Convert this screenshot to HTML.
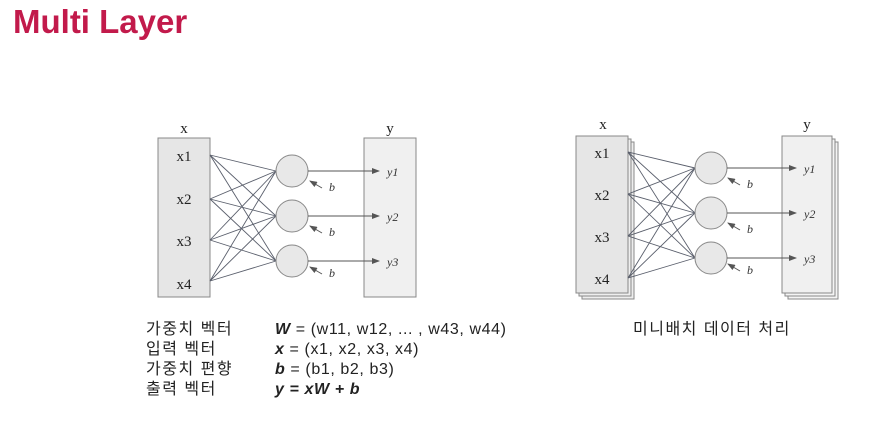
<!DOCTYPE html>
<html><head><meta charset="utf-8"><style>
body{margin:0;width:889px;height:443px;background:#fff;overflow:hidden;position:relative;font-family:"Liberation Sans","Noto Sans CJK KR",sans-serif}
.t{position:absolute;left:13px;top:3px;font-size:33px;font-weight:bold;color:#c21a4b}
.k{position:absolute;font-size:16px;color:#222;line-height:20px;letter-spacing:0.6px}
</style></head><body>
<div class="t">Multi Layer</div>
<svg width="889" height="443" style="position:absolute;left:0;top:0" font-family="Liberation Serif, serif">
<defs><marker id="a" markerWidth="8" markerHeight="6" refX="7" refY="3" orient="auto" markerUnits="userSpaceOnUse"><path d="M0,0L8,3L0,6z" fill="#555"/></marker></defs>
<rect x="158" y="138" width="52" height="159" fill="#e6e6e6" stroke="#888"/>
<rect x="364" y="138" width="52" height="159" fill="#f0f0f0" stroke="#888"/>
<g stroke="#5a5f6c" stroke-width="0.9">
<line x1="210" y1="155" x2="276" y2="171"/><line x1="210" y1="155" x2="276" y2="216"/><line x1="210" y1="155" x2="276" y2="261"/>
<line x1="210" y1="199" x2="276" y2="171"/><line x1="210" y1="199" x2="276" y2="216"/><line x1="210" y1="199" x2="276" y2="261"/>
<line x1="210" y1="240" x2="276" y2="171"/><line x1="210" y1="240" x2="276" y2="216"/><line x1="210" y1="240" x2="276" y2="261"/>
<line x1="210" y1="281" x2="276" y2="171"/><line x1="210" y1="281" x2="276" y2="216"/><line x1="210" y1="281" x2="276" y2="261"/>
</g>
<g fill="#e8e8e8" stroke="#888"><circle cx="292" cy="171" r="16"/><circle cx="292" cy="216" r="16"/><circle cx="292" cy="261" r="16"/></g>
<g stroke="#555" marker-end="url(#a)"><line x1="308" y1="171" x2="379" y2="171"/><line x1="308" y1="216" x2="379" y2="216"/><line x1="308" y1="261" x2="379" y2="261"/>
<line x1="322" y1="188" x2="310" y2="181"/><line x1="322" y1="233" x2="310" y2="226"/><line x1="322" y1="274" x2="310" y2="267"/></g>
<g font-size="15" fill="#222" text-anchor="middle"><text x="184" y="133">x</text><text x="390" y="133">y</text>
<text x="184" y="161">x1</text><text x="184" y="204">x2</text><text x="184" y="246">x3</text><text x="184" y="289">x4</text></g>
<g font-size="12" fill="#333" font-style="italic"><text x="387" y="176">y1</text><text x="387" y="221">y2</text><text x="387" y="266">y3</text>
<text x="329" y="191">b</text><text x="329" y="236">b</text><text x="329" y="277">b</text></g>
<rect x="582" y="142" width="52" height="157" fill="#eee" stroke="#888"/>
<rect x="579" y="139" width="52" height="157" fill="#eee" stroke="#888"/>
<rect x="576" y="136" width="52" height="157" fill="#e6e6e6" stroke="#888"/>
<rect x="788" y="142" width="50" height="157" fill="#f4f4f4" stroke="#888"/>
<rect x="785" y="139" width="50" height="157" fill="#f4f4f4" stroke="#888"/>
<rect x="782" y="136" width="50" height="157" fill="#f0f0f0" stroke="#888"/>
<g stroke="#5a5f6c" stroke-width="0.9">
<line x1="628" y1="152" x2="695" y2="168"/><line x1="628" y1="152" x2="695" y2="213"/><line x1="628" y1="152" x2="695" y2="258"/>
<line x1="628" y1="194" x2="695" y2="168"/><line x1="628" y1="194" x2="695" y2="213"/><line x1="628" y1="194" x2="695" y2="258"/>
<line x1="628" y1="236" x2="695" y2="168"/><line x1="628" y1="236" x2="695" y2="213"/><line x1="628" y1="236" x2="695" y2="258"/>
<line x1="628" y1="278" x2="695" y2="168"/><line x1="628" y1="278" x2="695" y2="213"/><line x1="628" y1="278" x2="695" y2="258"/>
</g>
<g fill="#e8e8e8" stroke="#888"><circle cx="711" cy="168" r="16"/><circle cx="711" cy="213" r="16"/><circle cx="711" cy="258" r="16"/></g>
<g stroke="#555" marker-end="url(#a)"><line x1="727" y1="168" x2="796" y2="168"/><line x1="727" y1="213" x2="796" y2="213"/><line x1="727" y1="258" x2="796" y2="258"/>
<line x1="740" y1="185" x2="728" y2="178"/><line x1="740" y1="230" x2="728" y2="223"/><line x1="740" y1="271" x2="728" y2="264"/></g>
<g font-size="15" fill="#222" text-anchor="middle"><text x="603" y="129">x</text><text x="807" y="129">y</text>
<text x="602" y="158">x1</text><text x="602" y="200">x2</text><text x="602" y="242">x3</text><text x="602" y="284">x4</text></g>
<g font-size="12" fill="#333" font-style="italic"><text x="804" y="173">y1</text><text x="804" y="218">y2</text><text x="804" y="263">y3</text>
<text x="747" y="188">b</text><text x="747" y="233">b</text><text x="747" y="274">b</text></g>
</svg>
<div class="k" style="left:146px;top:320px;letter-spacing:1.5px">가중치 벡터<br>입력 벡터<br>가중치 편향<br>출력 벡터</div>
<div class="k" style="left:275px;top:320px"><b><i>W</i></b> = (w11, w12, ... , w43, w44)<br><b><i>x</i></b> = (x1, x2, x3, x4)<br><b><i>b</i></b> = (b1, b2, b3)<br><b><i>y = xW + b</i></b></div>
<div class="k" style="left:633px;top:320px;letter-spacing:1.5px">미니배치 데이터 처리</div>
</body></html>
